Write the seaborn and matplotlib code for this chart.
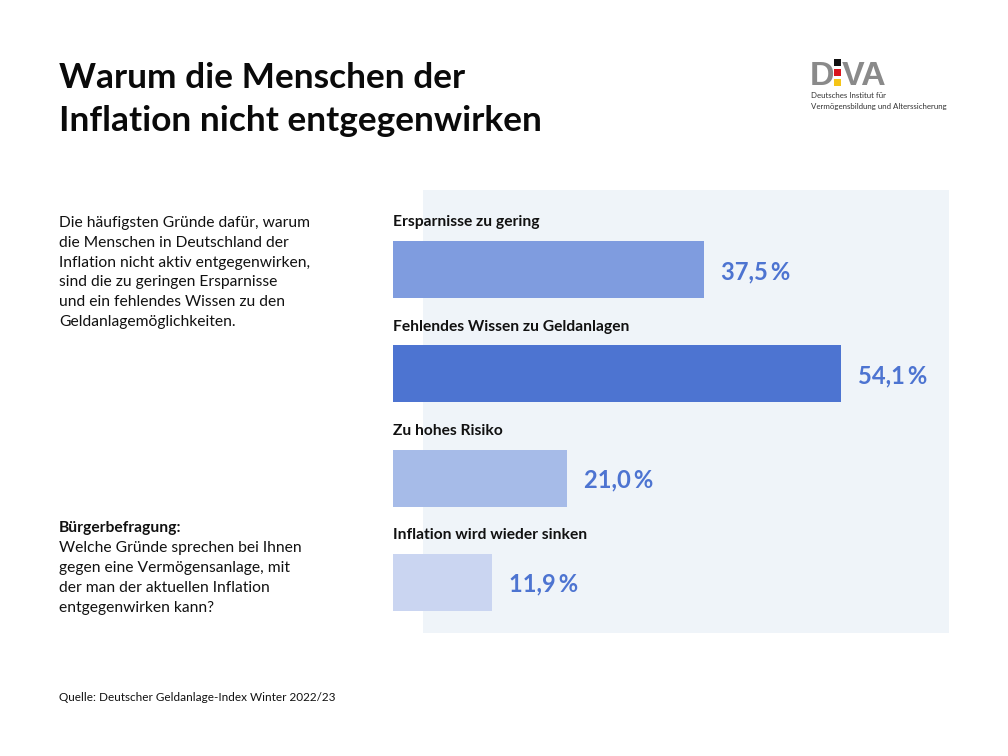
import matplotlib
matplotlib.use("Agg")
import matplotlib.pyplot as plt
from matplotlib.patches import Rectangle
import seaborn as sns
import pandas as pd

categories = ["Ersparnisse zu gering", "Fehlendes Wissen zu Geldanlagen", "Zu hohes Risiko", "Inflation wird wieder sinken"]
values = [37.5, 54.1, 21.0, 11.9]
value_labels = ["37,5\u2009%", "54,1\u2009%", "21,0\u2009%", "11,9\u2009%"]
bar_colors = ["#7F9CDF", "#4D74D1", "#A6BBE8", "#CAD5F1"]

title_lines = ["Warum die Menschen der", "Inflation nicht entgegenwirken"]
intro_lines = ["Die häufigsten Gründe dafür, warum", "die Menschen in Deutschland der",
               "Inflation nicht aktiv entgegenwirken,", "sind die zu geringen Ersparnisse",
               "und ein fehlendes Wissen zu den", "Geldanlagemöglichkeiten."]
question_head = "Bürgerbefragung:"
question_lines = ["Welche Gründe sprechen bei Ihnen", "gegen eine Vermögensanlage, mit",
                  "der man der aktuellen Inflation", "entgegenwirken kann?"]
source = "Quelle: Deutscher Geldanlage-Index Winter 2022/23"

sns.set_theme(style="white")
plt.rcParams["font.family"] = ["Lato", "DejaVu Sans"]

W, H = 1008, 756
fig = plt.figure(figsize=(W / 100, H / 100), dpi=100, facecolor="white")

def px(x, y):
    return x / W, 1 - y / H

def ftext(x, y, s, **kw):
    kw.setdefault("va", "baseline")
    kw.setdefault("color", "#111111")
    fig.text(*px(x, y), s, **kw)

# background panel
fig.add_artist(Rectangle(px(423, 633), 526 / W, 443 / H, transform=fig.transFigure,
                         facecolor="#EFF4F9", edgecolor="none", zorder=0))

ax = fig.add_axes([393 / W, 1 - 633 / H, 556 / W, 443 / H])
ax.patch.set_alpha(0)
df = pd.DataFrame({"cat": categories, "val": values})
sns.barplot(data=df, y="cat", x="val", hue="cat", palette=bar_colors, legend=False,
            width=0.5465, saturation=1, linewidth=0, ax=ax, orient="h")
ax.set_xlim(0, 556 / 8.281)
ax.set_ylim((633 - 269.5) / 104.3, -79.5 / 104.3)
ax.set_xlabel(""); ax.set_ylabel("")
ax.set_xticks([]); ax.set_yticks([])
sns.despine(ax=ax, left=True, bottom=True, top=True, right=True)

for i, (cat, v, lab) in enumerate(zip(categories, values, value_labels)):
    ax.annotate(lab, (v, i), xytext=(17 * 0.72, 0), textcoords="offset points",
                va="center_baseline", ha="left", fontsize=17.1, fontweight="bold", color="#4D74D1")
    ax.annotate(cat, (0, i), xytext=(0, 43.2 * 0.72), textcoords="offset points",
                va="baseline", ha="left", fontsize=11.25, fontweight="bold", color="#111111")

# title
for y, s in zip([88, 131], title_lines):
    ftext(59, y, s, fontsize=25.4, fontweight="bold", color="#0A0A0A")

# left column
for i, s in enumerate(intro_lines):
    ftext(59, 227 + i * 19.8, s, fontsize=11.25)
ftext(59, 532, question_head, fontsize=11.25, fontweight="bold")
for i, s in enumerate(question_lines):
    ftext(59, 552 + i * 20, s, fontsize=11.25)
ftext(59, 701, source, fontsize=8.5)

# logo
logo_font = "Liberation Sans"
ftext(809.5, 85, "D", fontsize=24.5, fontweight="bold", color="#8A8A8A", family=logo_font)
ftext(842, 85, "VA", fontsize=24.5, fontweight="bold", color="#8A8A8A", family=logo_font)
for y0, c in zip([59.3, 69, 79], ["#111111", "#D9141C", "#F5C518"]):
    fig.add_artist(Rectangle(px(834, y0 + 6.5), 7 / W, 6.5 / H, transform=fig.transFigure,
                             facecolor=c, edgecolor="none"))
ftext(811, 98, "Deutsches Institut für", fontsize=5.7, color="#333333")
ftext(811, 109, "Vermögensbildung und Alterssicherung", fontsize=5.7, color="#333333")

fig.savefig("out.png", dpi=100, facecolor="white")
